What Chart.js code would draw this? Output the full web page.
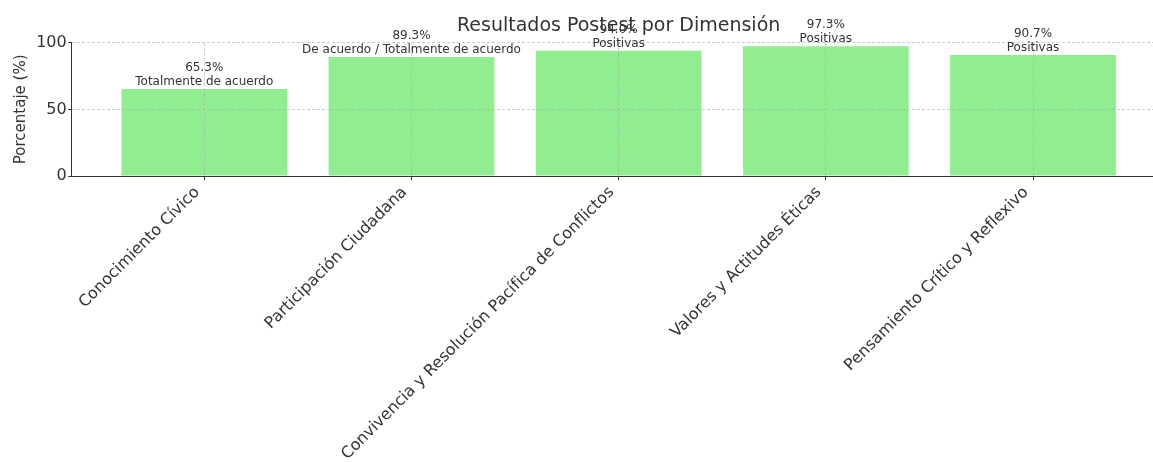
<!DOCTYPE html>
<html lang="es">
<head>
    <meta charset="UTF-8">
    <title>Resultados Postest por Dimensión</title>
    <script src="https://cdn.jsdelivr.net/npm/chart.js"></script>
    <style>
        html, body {
            margin: 0;
            padding: 0;
            background: #fff;
            overflow: hidden;
        }
        .wrap {
            width: 1170px;
            height: 462px;
        }
    </style>
</head>
<body>
    <div class="wrap">
        <canvas id="chart" width="1170" height="462"></canvas>
    </div>

    <script>
        // Datos
        const chartTitle = 'Resultados Postest por Dimensión';
        const categories = [
            'Conocimiento Cívico',
            'Participación Ciudadana',
            'Convivencia y Resolución Pacífica de Conflictos',
            'Valores y Actitudes Éticas',
            'Pensamiento Crítico y Reflexivo'
        ];
        const values = [65.3, 89.3, 94.0, 97.3, 90.7];
        const notes = [
            'Totalmente de acuerdo',
            'De acuerdo / Totalmente de acuerdo',
            'Positivas',
            'Positivas',
            'Positivas'
        ];
        const yTicks = [0, 50, 100];

        const font = '"DejaVu Sans", sans-serif';
        const textColor = '#333';
        const gridColor = 'rgba(170,170,170,0.6)';

        // textos sobre las barras y título centrado en el área del gráfico
        const notesPlugin = {
            id: 'notes',
            afterDraw(chart) {
                const { ctx, chartArea, scales } = chart;
                ctx.save();
                ctx.fillStyle = textColor;
                ctx.textAlign = 'center';
                ctx.textBaseline = 'alphabetic';
                ctx.font = '12px ' + font;
                values.forEach((v, i) => {
                    const px = scales.x.getPixelForValue(i);
                    const py = scales.y.getPixelForValue(v) - 4;
                    ctx.fillText(notes[i], px, py);
                    ctx.fillText(v.toFixed(1) + '%', px, py - 14);
                });
                ctx.font = '19px ' + font;
                ctx.fillText(chartTitle, (chartArea.left + chartArea.right) / 2, 31);
                ctx.restore();
            }
        };

        new Chart(document.getElementById('chart'), {
            type: 'bar',
            data: {
                datasets: [{
                    data: values.map((v, i) => ({ x: i, y: v })),
                    backgroundColor: '#90EE90',
                    borderWidth: 0,
                    barPercentage: 0.8,
                    categoryPercentage: 1.0
                }]
            },
            options: {
                responsive: false,
                animation: false,
                layout: { padding: { top: 42.7, right: 4.4, left: 0, bottom: 0 } },
                plugins: {
                    legend: { display: false },
                    tooltip: { enabled: false }
                },
                scales: {
                    x: {
                        type: 'linear',
                        min: -0.64,
                        max: 4.64,
                        offset: false,
                        afterBuildTicks: s => { s.ticks = categories.map((_, i) => ({ value: i })); },
                        afterFit: s => { s.height = 286; },
                        grid: {
                            offset: false,
                            z: 1,
                            color: gridColor,
                            tickColor: textColor,
                            tickLength: 4
                        },
                        border: { color: textColor, width: 1, dash: [3, 2], z: 2 },
                        ticks: {
                            autoSkip: false,
                            minRotation: 45,
                            maxRotation: 45,
                            padding: 3,
                            labelOffset: -7,
                            color: textColor,
                            font: { family: font, size: 16 },
                            callback: v => categories[v]
                        }
                    },
                    y: {
                        min: 0,
                        max: 100,
                        afterBuildTicks: s => { s.ticks = yTicks.map(v => ({ value: v })); },
                        afterFit: s => { s.width = 71.7; },
                        grid: {
                            z: 1,
                            color: gridColor,
                            tickColor: textColor,
                            tickLength: 3.5
                        },
                        border: { color: textColor, width: 1, dash: [3, 2], z: 2 },
                        ticks: {
                            padding: 1.5,
                            color: textColor,
                            font: { family: font, size: 16 }
                        },
                        title: {
                            display: true,
                            text: 'Porcentaje (%)',
                            color: textColor,
                            font: { family: font, size: 15 },
                            padding: { top: 12, bottom: 0 }
                        }
                    }
                }
            },
            plugins: [notesPlugin]
        });
    </script>
</body>
</html>
